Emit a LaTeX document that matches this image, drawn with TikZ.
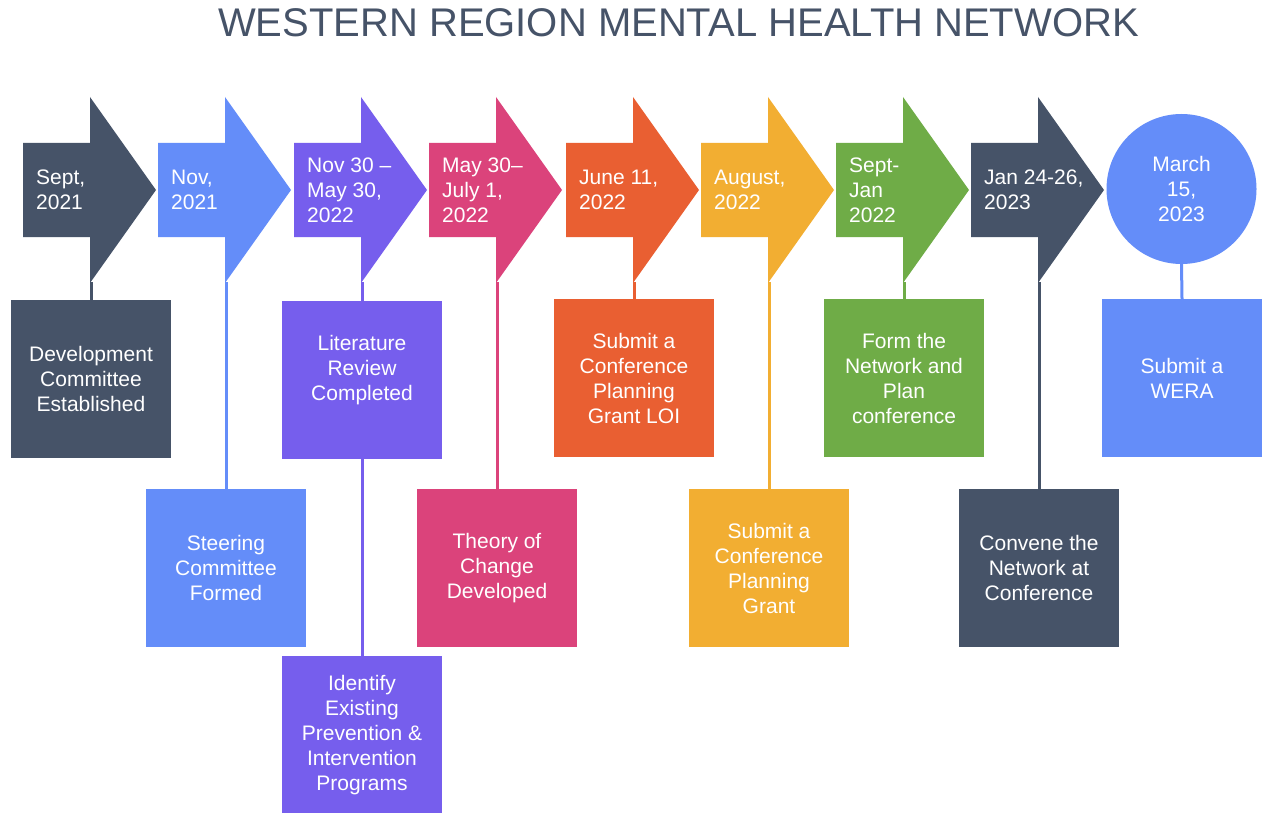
\documentclass[tikz,border=0pt]{standalone}
\usepackage{fontspec}
\setmainfont{Liberation Sans}
\usepackage{xcolor}
\usetikzlibrary{positioning}
\definecolor{slate}{RGB}{70,83,104}
\definecolor{cblue}{RGB}{100,141,249}
\definecolor{violet}{RGB}{118,94,237}
\definecolor{rose}{RGB}{219,67,123}
\definecolor{tangerine}{RGB}{233,95,50}
\definecolor{amber}{RGB}{242,174,50}
\definecolor{leaf}{RGB}{111,172,71}
\tikzset{
  datetxt/.style={text=white,font=\fontsize{21}{25}\selectfont,align=left,inner sep=0pt},
  task/.style={fill=#1,text=white,minimum width=160pt,minimum height=158pt,inner sep=0pt,
    align=center,font=\fontsize{21}{25}\selectfont},
  stem/.style={draw=#1,line width=3pt}
}
% #1 name, #2 left edge, #3 colour, #4 date
\newcommand{\datearrow}[4]{%
  \fill[#3] (#2,-143) -- (#2+67,-143) -- (#2+67,-97) -- (#2+133,-190)
    -- (#2+67,-283) -- (#2+67,-237) -- (#2,-237) -- cycle;
  \node[datetxt,anchor=west] (#1) at (#2+13,-190) {#4};
  \coordinate (#1-s) at (#2+68,-282);
}

\begin{document}
\begin{tikzpicture}[x=1pt,y=1pt]
\useasboundingbox[fill=white] (0,0) rectangle (1263,-813);
\node[font=\fontsize{40}{48}\selectfont,text=slate,anchor=base] (title) at (678.5,-37)
  {WESTERN REGION MENTAL HEALTH NETWORK};

\datearrow{sep21}{23}{slate}{Sept,\\2021}
\datearrow{nov21}{158}{cblue}{Nov,\\2021}
\datearrow{nov30}{294}{violet}{Nov 30 –\\May 30,\\2022}
\datearrow{may30}{429}{rose}{May 30–\\July 1,\\2022}
\datearrow{jun22}{566}{tangerine}{June 11,\\2022}
\datearrow{aug22}{701}{amber}{August,\\2022}
\datearrow{sep22}{836}{leaf}{Sept-\\Jan\\2022}
\datearrow{jan23}{971}{slate}{Jan 24-26,\\2023}
\node[circle,fill=cblue,minimum size=150pt,inner sep=0pt,datetxt,align=center] (mar23)
  at (1181.5,-189) {March\\15,\\2023};

\node[task=slate] (devc) at (91,-379) {Development\\Committee\\Established};
\node[task=cblue] (steer) at (226,-568) {Steering\\Committee\\Formed};
\node[task=violet] (litrev) at (362,-380) {Literature\\Review\\Completed\\~};
\node[task=violet] (ident) at (362,-735) {Identify\\Existing\\Prevention \&\\Intervention\\Programs};
\node[task=rose] (theory) at (497,-568) {Theory of\\Change\\Developed};
\node[task=tangerine] (loi) at (634,-378) {Submit a\\Conference\\Planning\\Grant LOI};
\node[task=amber] (grant) at (769,-568) {Submit a\\Conference\\Planning\\Grant};
\node[task=leaf] (form) at (904,-378) {Form the\\Network and\\Plan\\conference};
\node[task=slate] (convene) at (1039,-568) {Convene the\\Network at\\Conference};
\node[task=cblue] (wera) at (1182,-378) {Submit a\\WERA};

\draw[stem=slate] (sep21-s) -- (sep21-s |- devc.north);
\draw[stem=cblue] (nov21-s) -- (nov21-s |- steer.north);
\draw[stem=violet] (nov30-s) -- (nov30-s |- litrev.north);
\draw[stem=violet] (litrev.south) -- (ident.north);
\draw[stem=rose] (may30-s) -- (may30-s |- theory.north);
\draw[stem=tangerine] (jun22-s) -- (jun22-s |- loi.north);
\draw[stem=amber] (aug22-s) -- (aug22-s |- grant.north);
\draw[stem=leaf] (sep22-s) -- (sep22-s |- form.north);
\draw[stem=slate] (jan23-s) -- (jan23-s |- convene.north);
\draw[stem=cblue] (mar23.south) -- (wera.north);
\end{tikzpicture}
\end{document}
